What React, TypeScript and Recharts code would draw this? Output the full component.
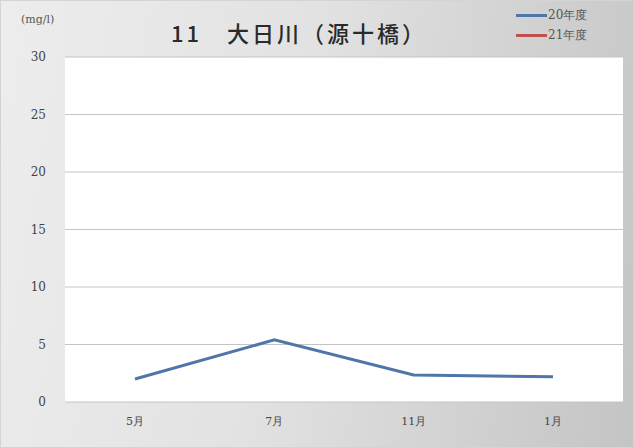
import React from "react";
import { LineChart, Line, XAxis, YAxis, CartesianGrid } from "recharts";

const months = ["5月", "7月", "11月", "1月"];
const series20 = [2.0, 5.4, 2.35, 2.2];
const series21: (number | null)[] = [null, null, null, null];
const yTicks = [0, 5, 10, 15, 20, 25, 30];
const legendItems = [
  { name: "20年度", color: "#4f76a8" },
  { name: "21年度", color: "#c0504d" },
];

const data = months.map((m, i) => ({ month: m, y20: series20[i], y21: series21[i] }));

const serif = "'DejaVu Serif', 'Liberation Serif', serif";
const sans = "'Noto Sans CJK JP', 'Noto Sans', sans-serif";

export default function App() {
  return (
    <div
      style={{
        position: "absolute",
        left: 0,
        top: 0,
        width: 634,
        height: 448,
        background: "linear-gradient(100deg, #ededed 0%, #e2e2e2 45%, #c4c4c4 100%)",
        boxSizing: "border-box",
        border: "1px solid #d4d4d4",
      }}
    >
      <LineChart
        width={634}
        height={448}
        data={data}
        margin={{ top: 56, right: 12, bottom: 17, left: 0 }}
      >
        <CartesianGrid vertical={false} stroke="#c4c4c4" fill="#ffffff" />
        <XAxis
          dataKey="month"
          height={30}
          padding={{ left: 70, right: 70 }}
          axisLine={false}
          tickLine={false}
          tickSize={0}
          tickMargin={15}
          tick={{ fill: "#444", fontSize: 11, fontFamily: serif }}
        />
        <YAxis
          width={64}
          domain={[0, 30]}
          ticks={yTicks}
          axisLine={false}
          tickLine={false}
          tickSize={0}
          tickMargin={19}
          tick={{ fill: "#444", fontSize: 12, fontFamily: serif }}
        />
        <Line
          dataKey="y20"
          stroke="#4f76a8"
          strokeWidth={3}
          dot={false}
          isAnimationActive={false}
        />
        <Line
          dataKey="y21"
          stroke="#c0504d"
          strokeWidth={3}
          dot={false}
          isAnimationActive={false}
        />
      </LineChart>
      <div
        style={{
          position: "absolute",
          left: 0,
          width: 596,
          top: 16,
          textAlign: "center",
          fontFamily: sans,
          fontSize: 22,
          letterSpacing: 3,
          fontWeight: 500,
          color: "#2a2a2a",
          lineHeight: "30px",
        }}
      >
        11　大日川（源十橋）
      </div>
      <div
        style={{
          position: "absolute",
          left: 20,
          top: 12,
          fontFamily: serif,
          fontSize: 11,
          color: "#555",
        }}
      >
        (mg/l)
      </div>
      <div style={{ position: "absolute", left: 515, top: 4 }}>
        {legendItems.map((it) => (
          <div key={it.name} style={{ display: "flex", alignItems: "center", height: 20 }}>
            <div style={{ width: 31, height: 3, background: it.color }} />
            <span style={{ fontFamily: serif, fontSize: 12, color: "#555", marginLeft: 1 }}>
              {it.name}
            </span>
          </div>
        ))}
      </div>
    </div>
  );
}
